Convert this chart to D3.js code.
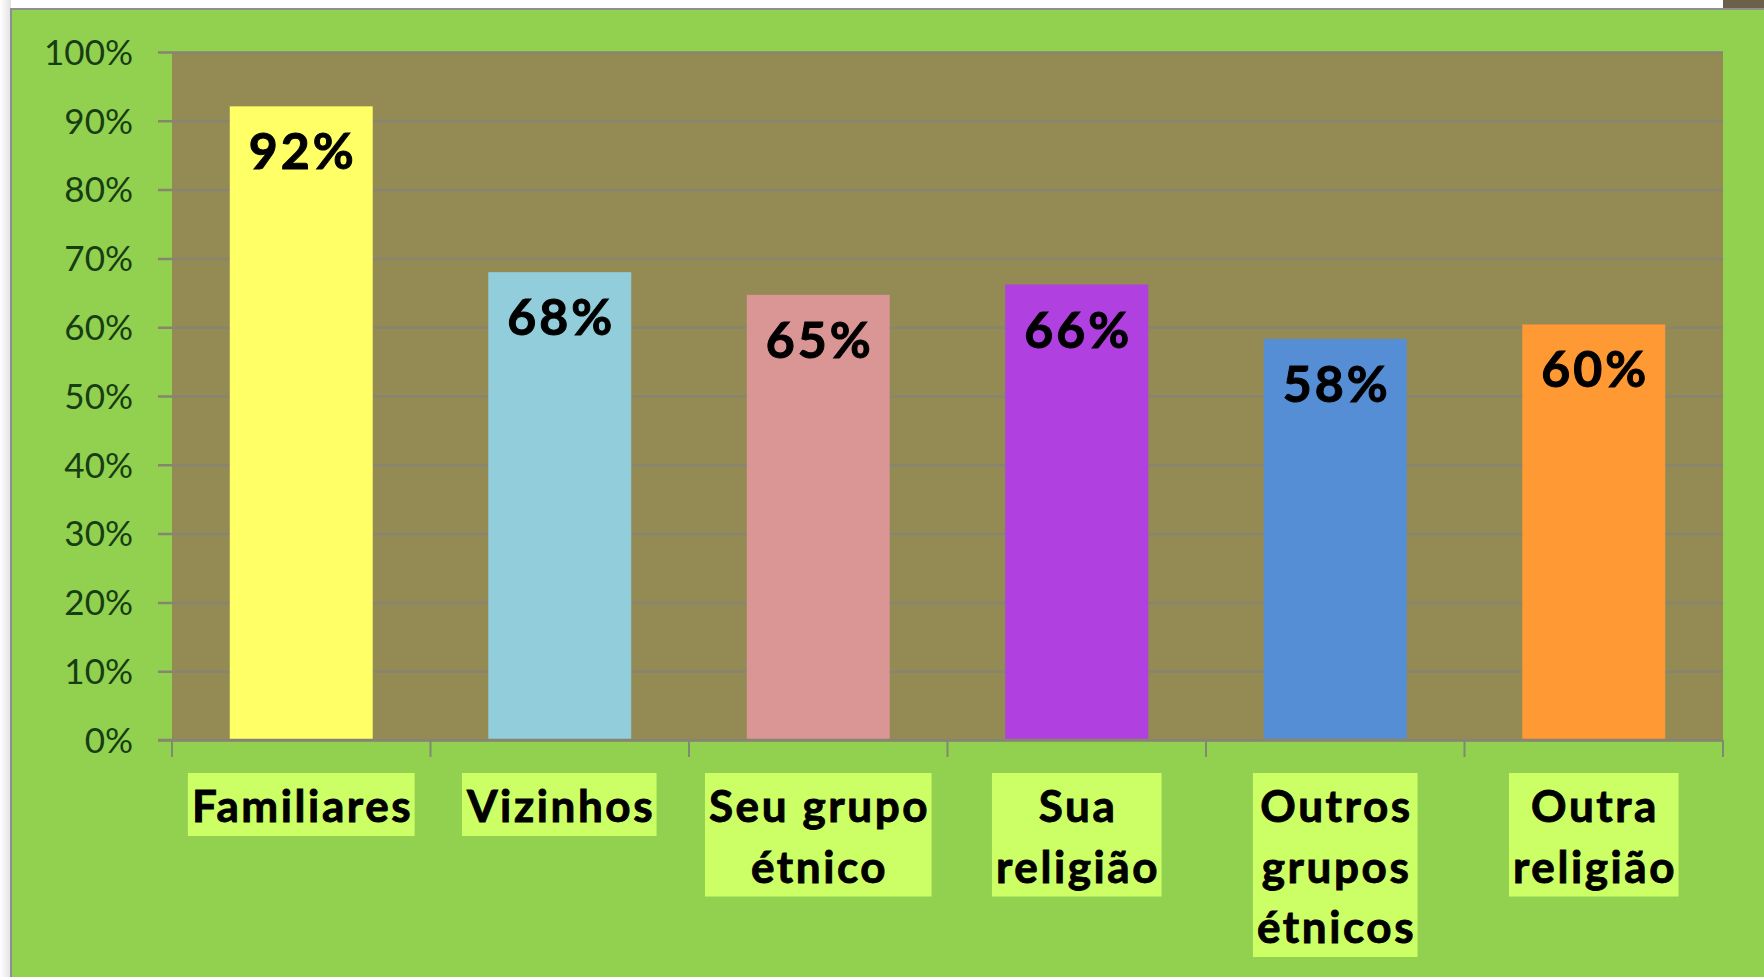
<!DOCTYPE html>
<html>
<head>
<meta charset="utf-8">
<script src="https://cdn.jsdelivr.net/npm/d3@7"></script>
<style>
html,body{margin:0;padding:0;background:#ffffff;}
svg{display:block;}
</style>
</head>
<body>
<svg id="chart" width="1764" height="977"></svg>
<script>
// ---- data ----
const categories = [["Familiares"], ["Vizinhos"], ["Seu grupo", "étnico"], ["Sua", "religião"], ["Outros", "grupos", "étnicos"], ["Outra", "religião"]];
const values = [0.921, 0.68, 0.647, 0.662, 0.583, 0.604];
const valueLabels = ["92%", "68%", "65%", "66%", "58%", "60%"];
const barColors = ["#FFFF66", "#92CDDC", "#D99694", "#B040E0", "#558ED5", "#FF9933"];
const yTicks = [0, 0.1, 0.2, 0.3, 0.4, 0.5, 0.6, 0.7, 0.8, 0.9, 1.0];
const yTickLabels = ["0%", "10%", "20%", "30%", "40%", "50%", "60%", "70%", "80%", "90%", "100%"];

const W = 1764, H = 977;
const svg = d3.select("#chart");
const plot = {left: 172, right: 1723, top: 52, bottom: 740};

// page background: left shadow strip
const defs = svg.append("defs");
const lg = defs.append("linearGradient").attr("id", "shadow").attr("x1", "0").attr("x2", "1").attr("y1", "0").attr("y2", "0");
lg.append("stop").attr("offset", "0").attr("stop-color", "#ffffff");
lg.append("stop").attr("offset", "1").attr("stop-color", "#e2e2e2");
svg.append("rect").attr("x", 0).attr("y", 0).attr("width", 11).attr("height", H).attr("fill", "url(#shadow)");
// small dark element at top right
svg.append("rect").attr("x", 1723).attr("y", 0).attr("width", 41).attr("height", 8).attr("fill", "#6b604a");

// green frame
svg.append("rect").attr("x", 11).attr("y", 9).attr("width", W + 20).attr("height", H + 20)
  .attr("fill", "#92D050").attr("stroke", "#8f8f8f").attr("stroke-width", 2);

// plot area
svg.append("rect").attr("x", plot.left).attr("y", plot.top)
  .attr("width", plot.right - plot.left).attr("height", plot.bottom - plot.top)
  .attr("fill", "#948A54");

const x = d3.scaleBand().domain(d3.range(categories.length)).range([plot.left, plot.right]).padding(0);
const y = d3.scaleLinear().domain([0, 1]).range([plot.bottom, plot.top]);

// gridlines + y ticks
const yAxis = d3.axisLeft(y).tickValues(yTicks).tickFormat((d, i) => yTickLabels[i])
  .tickSize(plot.right - plot.left + 14).tickPadding(25);
const gy = svg.append("g").attr("transform", `translate(${plot.right},0)`).call(yAxis);
gy.select(".domain").remove();
gy.selectAll(".tick line").attr("stroke", "#878470").attr("stroke-width", 2.5);
gy.selectAll(".tick text")
  .attr("font-family", "Lato, 'Open Sans', sans-serif")
  .attr("font-size", 35)
  .attr("fill", "#173d12")
  .attr("dy", "0.35em");

// bars
const barW = x.bandwidth() * 0.553;
svg.append("g").selectAll("rect").data(values).join("rect")
  .attr("x", (d, i) => x(i) + x.bandwidth() / 2 - barW / 2)
  .attr("y", d => y(d))
  .attr("width", barW)
  .attr("height", d => y(0) - y(d))
  .attr("fill", (d, i) => barColors[i]);

// x axis line and category boundary ticks
svg.append("line").attr("x1", plot.left - 14).attr("x2", plot.right).attr("y1", y(0)).attr("y2", y(0))
  .attr("stroke", "#878470").attr("stroke-width", 2.5);
const bounds = d3.range(categories.length + 1).map(i => i < categories.length ? x(i) : plot.right);
svg.append("g").selectAll("line").data(bounds).join("line")
  .attr("x1", d => d).attr("x2", d => d).attr("y1", y(0)).attr("y2", y(0) + 17)
  .attr("stroke", "#7f8a70").attr("stroke-width", 2);

// value labels
const valLS = 3;
svg.append("g").selectAll("text").data(values).join("text")
  .attr("x", (d, i) => x(i) + x.bandwidth() / 2 + valLS / 2)
  .attr("y", d => y(d) + 63)
  .attr("text-anchor", "middle")
  .attr("font-family", "Lato, 'Open Sans', sans-serif")
  .attr("font-weight", "bold")
  .attr("font-size", 50)
  .attr("letter-spacing", valLS)
  .attr("fill", "#000")
  .attr("stroke", "#000")
  .attr("stroke-width", 1)
  .text((d, i) => valueLabels[i]);

// category labels with highlight boxes
const lineH = 60.5, firstBase = 822, catLS = 2.6;
const catG = svg.append("g");
categories.forEach((lines, i) => {
  const cx = x(i) + x.bandwidth() / 2 + catLS / 2;
  const g = catG.append("g");
  const bg = g.append("rect").attr("fill", "#CCFF66");
  const t = g.append("text")
    .attr("text-anchor", "middle")
    .attr("font-family", "Lato, 'Open Sans', sans-serif")
    .attr("font-weight", "bold")
    .attr("font-size", 44)
    .attr("letter-spacing", catLS)
    .attr("fill", "#000")
    .attr("stroke", "#000")
    .attr("stroke-width", 0.9);
  lines.forEach((ln, j) => {
    t.append("tspan").attr("x", cx).attr("y", firstBase + j * lineH).text(ln);
  });
  const bb = t.node().getBBox();
  bg.attr("x", bb.x - 4).attr("width", bb.width - catLS + 8)
    .attr("y", firstBase - 49)
    .attr("height", (lines.length - 1) * lineH + 49 + 14);
});
</script>
</body>
</html>
